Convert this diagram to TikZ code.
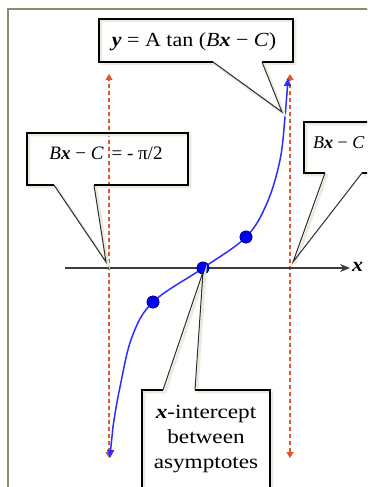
\documentclass[tikz,border=0pt]{standalone}
\usepackage{fontspec}
\setmainfont{Liberation Serif}
\newfontfamily\widefont{Liberation Serif}[FakeStretch=1.1]
\newfontfamily\widerfont{Liberation Serif}[FakeStretch=1.16]
\usetikzlibrary{arrows.meta}
\definecolor{framec}{RGB}{140,136,115}
\definecolor{asymc}{RGB}{225,85,40}
\definecolor{curvec}{RGB}{45,45,255}
\definecolor{shadc}{RGB}{236,234,222}
\definecolor{ptrc}{RGB}{45,45,45}
\begin{document}
\begin{tikzpicture}[x=1pt,y=-1pt,
  frame/.style={draw=framec,line width=1.6pt},
  boxline/.style={draw=black,line width=1.8pt,line join=miter},
  shad/.style={draw=shadc,line width=2.5pt},
  ptr/.style={draw=ptrc,line width=1pt},
  asym/.style={draw=asymc,line width=1.3pt,dash pattern=on 4.5pt off 2.5pt,
    {Triangle[length=6pt,width=7pt]}-{Triangle[length=6pt,width=7pt]}},
  curve/.style={draw=curvec,line width=1.5pt,
    {Triangle[length=8pt,width=7pt]}-{Triangle[length=8pt,width=7pt]}},
  dot/.style={circle,fill=blue,draw={rgb,255:red,0;green,0;blue,120},line width=0.6pt,minimum size=12pt,inner sep=0pt},
  axis/.style={draw={rgb,255:red,60;green,60;blue,60},line width=1.6pt,-{Stealth[length=10pt,width=8pt]}},
  lbl/.style={inner sep=0pt,font=\widefont\fontsize{20}{23}\selectfont},
  lbls/.style={inner sep=0pt,font=\fontsize{19}{22}\selectfont},
  lblr/.style={inner sep=0pt,font=\fontsize{18}{22}\selectfont},
  lblb/.style={inner sep=0pt,font=\widerfont\fontsize{20}{25}\selectfont},
]
\useasboundingbox (0,0) rectangle (367,487);
\clip (0,0) rectangle (367,487);
\fill[white] (0,0) rectangle (367,487);
% frame
\draw[frame] (8,490) -- (8,9) -- (370,9);

% asymptotes
\coordinate (aLt) at (109,74);
\coordinate (aLb) at (109,458);
\coordinate (aRt) at (290,74);
\coordinate (aRb) at (290,458);
\draw[asym] (aLb) -- (aLt);
\draw[asym] (aRb) -- (aRt);

% axis
\coordinate (ax0) at (65,268);
\coordinate (ax1) at (350,268);
\draw[axis] (ax0) -- (ax1);
\node[lbl,anchor=west] (xl) at (352,267) {\textbf{\textit{x}}};

% curve
\coordinate (cb) at (110,458);
\coordinate (ct) at (288,78);
\node[dot] (d1) at (153,302) {};
\node[dot] (d0) at (203,268) {};
\node[dot] (d2) at (246,237) {};
\draw[curve] plot[smooth,tension=0.6] coordinates {(cb) (113,427) (120,387) (132,337) (d1.center) (d0.center) (d2.center) (267,203) (280,160) (285,117) (ct)};
\node[dot] at (d1) {};
\node[dot] at (d0) {};
\node[dot] at (d2) {};

% top callout
\coordinate (tTip) at (282,112);
\draw[shad] (101,21) -- (295,21) -- (295,64) -- (264,64) -- (284,114) -- (215,64) -- (101,64) -- cycle;
\draw[boxline] (213,62) -- (99,62) -- (99,19) -- (293,19) -- (293,62) -- (262,62);
\draw[ptr] (213,62) -- (tTip) -- (262,62);
\node[lbl] (tT) at (194,42) {\textbf{\textit{y}} = A tan (\textit{B}\textbf{\textit{x}} − \textit{C})};

% left callout
\coordinate (lTip) at (106,262);
\draw[shad] (29,135) -- (190,135) -- (190,187) -- (96,187) -- (108,264) -- (56,187) -- (29,187) -- cycle;
\draw[boxline] (54,185) -- (27,185) -- (27,133) -- (188,133) -- (188,185) -- (94,185);
\draw[ptr] (54,185) -- (lTip) -- (94,185);
\node[lbls] (lT) at (106,153) {\textit{B}\textbf{\textit{x}} − \textit{C}\, = - π/2};

% right callout
\coordinate (rTip) at (293,262);
\draw[shad] (306,124) -- (400,124) (306,124) -- (306,175) -- (327,175) -- (295,264) (364,175) -- (400,175);
\draw[boxline] (325,173) -- (304,173) -- (304,122) -- (400,122);
\draw[boxline] (362,173) -- (400,173);
\draw[ptr] (325,173) -- (rTip) -- (362,173);
\node[lblr,anchor=west] (rT) at (313,143) {\textit{B}\textbf{\textit{x}} − \textit{C}};

% bottom callout
\coordinate (bTip) at (203,272);
\draw[shad] (144,392) -- (165,392) -- (205,274) -- (197,392) -- (272,392) -- (272,500) (144,392) -- (144,500);
\draw[boxline] (163,390) -- (142,390) -- (142,500);
\draw[boxline] (195,390) -- (270,390) -- (270,500);
\draw[ptr] (163,390) -- (bTip) -- (195,390);
\node[lblb,align=center] (bT) at (206,439) {\textbf{\textit{x}}-intercept\\between\\asymptotes};
\end{tikzpicture}
\end{document}
